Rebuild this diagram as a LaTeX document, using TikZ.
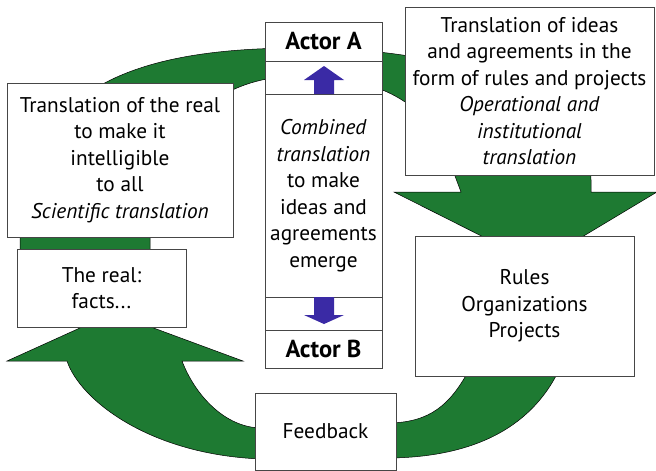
\documentclass[tikz,border=0pt]{standalone}
\usepackage{fontspec}
\setmainfont{PT Sans}
\definecolor{arc_color}{RGB}{30,122,50}
\definecolor{arrow_color}{RGB}{58,42,165}
\definecolor{box_color}{RGB}{70,70,70}

\begin{document}
\begin{tikzpicture}[x=1pt,y=-1pt,
    txbox/.style={draw=box_color, fill=white, align=center, inner sep=0pt,
      font=\fontsize{21.3}{26.5}\selectfont},
    cell/.style={txbox, minimum width=117pt},
    actor/.style={cell, font=\fontsize{24.5}{26.5}\selectfont\bfseries}]
  \useasboundingbox (0,0) rectangle (656,471);
  % green cycle
  \fill[arc_color, draw=black, line width=0.5pt] (20,255) -- (20,240)
    .. controls (20,90) and (130,48) .. (300,48)
    .. controls (470,48) and (591,100) .. (591,180) -- (591,192)
    -- (657,192) -- (537,264) -- (394,192) -- (461,192) -- (455,176)
    .. controls (440,120) and (400,76) .. (300,76)
    .. controls (200,76) and (150,150) .. (150,249) -- (150,255) -- cycle;
  \fill[arc_color, draw=black, line width=0.5pt] (559,370)
    .. controls (530,430) and (470,457) .. (390,458) -- (390,423)
    .. controls (430,422) and (450,405) .. (469,370) -- cycle;
  \fill[arc_color, draw=black, line width=0.5pt] (262,428)
    .. controls (225,428) and (195,395) .. (182,361) -- (243,361)
    -- (113,313) -- (7,361) -- (67,361)
    .. controls (80,400) and (150,455) .. (262,459) -- cycle;

  \node[txbox, minimum width=226pt, minimum height=154pt] (science) at (120,160)
    {Translation of the real\\to make it\\intelligible\\to all\\\textit{Scientific translation}};
  \node[txbox, minimum width=169pt, minimum height=78pt] (real) at (101.5,288)
    {The real:\\facts...};
  \node[txbox, minimum width=249pt, minimum height=168pt] (operation) at (529.5,91)
    {Translation of ideas\\and agreements in the\\form of rules and projects\\\textit{Operational and}\\\textit{institutional}\\\textit{translation}};
  \node[txbox, minimum width=219pt, minimum height=140pt] (rules) at (524.5,306)
    {Rules\\Organizations\\Projects};
  \node[txbox, minimum width=141pt, minimum height=77pt] (feedback) at (325.5,431.5)
    {Feedback};

  % actors column
  \node[actor, minimum height=39pt] (actorA) at (323.5,41.5) {Actor A};
  \node[cell, minimum height=33pt] (up) at (323.5,77.5) {};
  \node[cell, minimum height=203pt] (combined) at (323.5,195.5)
    {\textit{Combined}\\\textit{translation}\\to make\\ideas and\\agreements\\emerge};
  \node[cell, minimum height=33pt] (down) at (323.5,313.5) {};
  \node[actor, minimum height=38pt] (actorB) at (323.5,349) {Actor B};
  \fill[arrow_color] (314,94) -- (314,80) -- (304,80) -- (324,66) -- (344,80) -- (334,80) -- (334,94) -- cycle;
  \fill[arrow_color] (314,297) -- (314,315) -- (304,315) -- (324,324) -- (344,315) -- (334,315) -- (334,297) -- cycle;
\end{tikzpicture}
\end{document}
